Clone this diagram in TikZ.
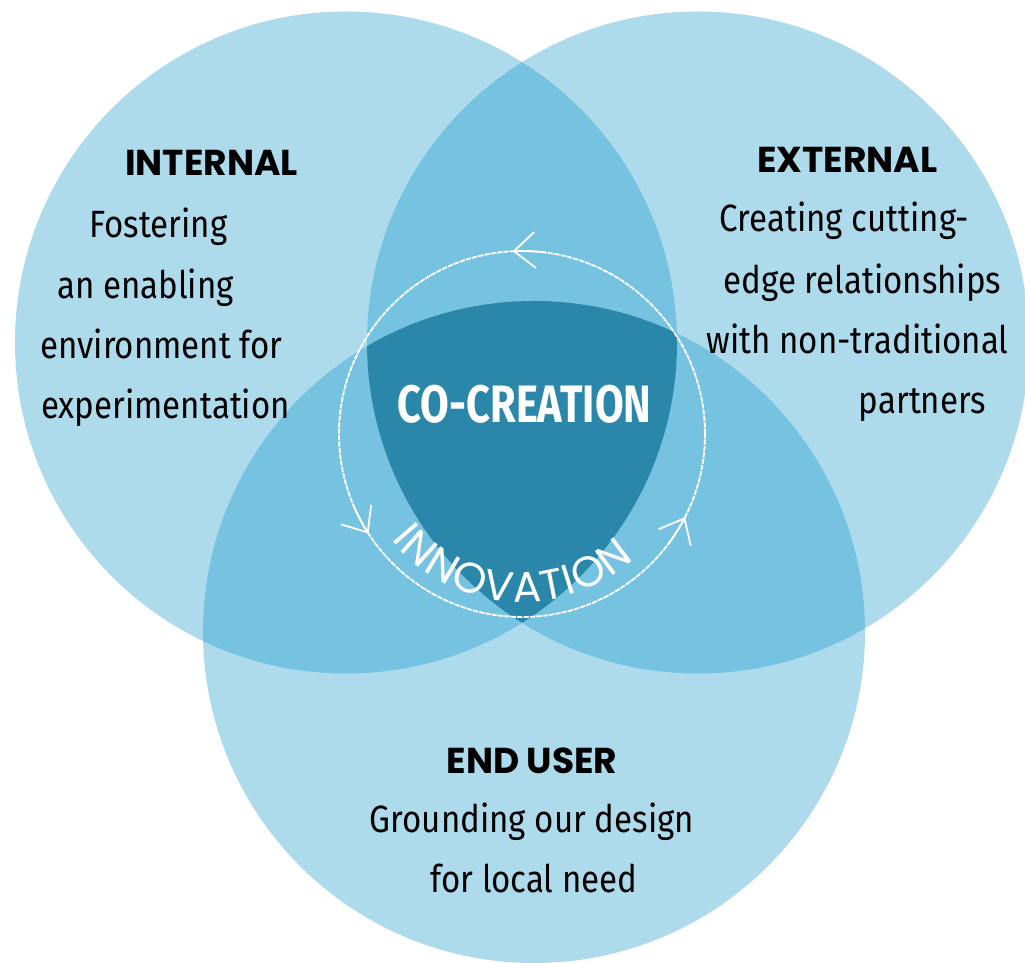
\documentclass[tikz,border=0pt]{standalone}
\usepackage{fontspec}
\usetikzlibrary{arrows.meta,decorations.text,calc}
\newfontfamily\bodyfont[FakeStretch=0.87]{Fira Sans}
\newfontfamily\headfont{Poppins}
\newfontfamily\corefont[FakeStretch=0.79]{Fira Sans}
\newfontfamily\innofont{Poppins}
\definecolor{vlight}{RGB}{173,219,236}
\definecolor{vmid}{RGB}{117,194,225}
\definecolor{vdark}{RGB}{42,135,170}
\begin{document}
\begin{tikzpicture}[x=0.75pt,y=0.75pt,
  ring/.style={draw=white, line width=1.4pt, dash pattern=on 4pt off 0.8pt},
  cyclearrow/.style={draw=white, line width=1.4pt, -{Straight Barb[length=16pt,width=27pt]}},
  head/.style={font=\headfont\bfseries\fontsize{27}{30}\selectfont, inner sep=0pt, anchor=base},
  body/.style={font=\bodyfont\fontsize{28.5}{32}\selectfont, inner sep=0pt, anchor=base},
  core/.style={font=\corefont\bfseries\fontsize{39.5}{42}\selectfont, text=white, inner sep=0pt, anchor=base}]
\useasboundingbox (0,0) rectangle (1025,963);
\clip (0,0) rectangle (1025,963);
\def\R{331}
\coordinate (cL) at (346,620.5);
\coordinate (cR) at (698,620.5);
\coordinate (cB) at (534,331);
\coordinate (cI) at (522,529);

% the three sets
\fill[vlight] (cL) circle[radius=\R] (cR) circle[radius=\R] (cB) circle[radius=\R];
% pairwise overlaps
\begin{scope}
  \clip (cL) circle[radius=\R];
  \fill[vmid] (cR) circle[radius=\R] (cB) circle[radius=\R];
\end{scope}
\begin{scope}
  \clip (cR) circle[radius=\R];
  \fill[vmid] (cB) circle[radius=\R];
\end{scope}
% common core
\begin{scope}
  \clip (cL) circle[radius=\R];
  \clip (cR) circle[radius=\R];
  \fill[vdark] (cB) circle[radius=\R];
\end{scope}

% innovation cycle
\draw[ring] (cI) circle[radius=183];
\foreach \a in {93,213,333}
  \draw[cyclearrow] ($(cI)+(\a-10:183)$) arc[start angle=\a-10, end angle=\a, radius=183];
\path[decorate, decoration={text along path, text align={fit to path},
    text color=white, text={|\innofont\fontsize{32}{32}\selectfont|INNOVATION}}]
  ($(cI)+(219:168)$) arc[start angle=219, end angle=312, radius=168];

\node[core] (co) at (524.5,540) {CO-CREATION};

% internal
\node[head] (inth) at (211.5,787) {INTERNAL};
\node[body] (int1) at (158.5,725) {Fostering};
\node[body] (int2) at (145.5,664) {an enabling};
\node[body] (int3) at (161.5,604) {environment for};
\node[body] (int4) at (165.5,544) {experimentation};

% external
\node[head] (exth) at (847.5,790) {EXTERNAL};
\node[body] (ext1) at (844.5,731) {Creating cutting-};
\node[body] (ext2) at (862.5,669) {edge relationships};
\node[body] (ext3) at (857.5,609) {with non-traditional};
\node[body] (ext4) at (922.5,549) {partners};

% end user
\node[head] (endh) at (532,189) {END USER};
\node[body] (end1) at (532,130) {Grounding our design};
\node[body] (end2) at (534,70) {for local need};
\end{tikzpicture}
\end{document}
